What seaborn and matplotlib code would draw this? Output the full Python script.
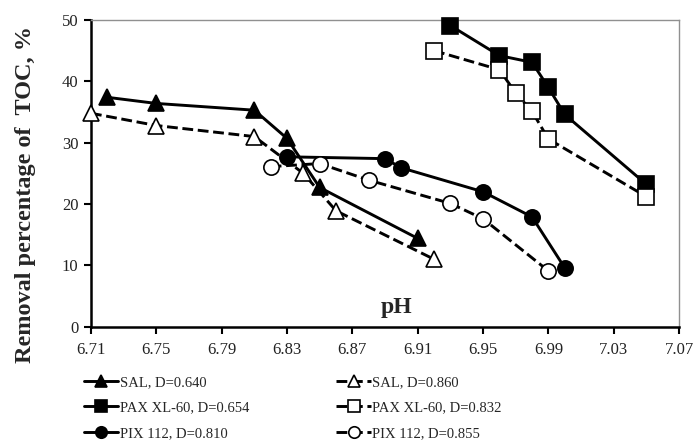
import matplotlib
matplotlib.use("Agg")
import matplotlib.pyplot as plt
import seaborn as sns
import pandas as pd

sns.set_theme(style="white")
plt.rcParams['font.family'] = ['Liberation Serif', 'DejaVu Serif']

# Data
sal1_x = [6.72, 6.75, 6.81, 6.83, 6.85, 6.91]
sal1_y = [37.4, 36.4, 35.3, 30.7, 22.7, 14.4]
sal2_x = [6.71, 6.75, 6.81, 6.84, 6.86, 6.92]
sal2_y = [34.8, 32.8, 31.0, 25.0, 18.9, 11.0]
pax1_x = [6.93, 6.96, 6.98, 6.99, 7.00, 7.05]
pax1_y = [49.1, 44.2, 43.1, 39.0, 34.6, 23.2]
pax2_x = [6.92, 6.96, 6.97, 6.98, 6.99, 7.05]
pax2_y = [45.0, 41.9, 38.1, 35.1, 30.6, 21.2]
pix1_x = [6.83, 6.89, 6.90, 6.95, 6.98, 7.00]
pix1_y = [27.7, 27.4, 25.9, 22.0, 17.9, 9.6]
pix2_x = [6.82, 6.85, 6.88, 6.93, 6.95, 6.99]
pix2_y = [26.1, 26.6, 23.9, 20.1, 17.6, 9.1]

labels = ["SAL, D=0.640", "PAX XL-60, D=0.654", "PIX 112, D=0.810",
          "SAL, D=0.860", "PAX XL-60, D=0.832", "PIX 112, D=0.855"]
x_ticks = [6.71, 6.75, 6.79, 6.83, 6.87, 6.91, 6.95, 6.99, 7.03, 7.07]
y_ticks = [0, 10, 20, 30, 40, 50]

fig = plt.figure(figsize=(6.96, 4.45), dpi=100)
ax = fig.add_axes([0.1307, 0.2658, 0.845, 0.6892])

series = [
    (sal1_x, sal1_y, '^', 'black', '-', labels[0], 11),
    (pax1_x, pax1_y, 's', 'black', '-', labels[1], 11),
    (pix1_x, pix1_y, 'o', 'black', '-', labels[2], 11),
    (sal2_x, sal2_y, '^', 'white', '--', labels[3], 11),
    (pax2_x, pax2_y, 's', 'white', '--', labels[4], 11),
    (pix2_x, pix2_y, 'o', 'white', '--', labels[5], 11),
]
for xs, ys, m, fc, ls, lab, ms in series:
    df = pd.DataFrame({'pH': xs, 'val': ys})
    kw = {}
    if ls == '--':
        kw['dashes'] = (3, 1.6)
    sns.lineplot(data=df, x='pH', y='val', ax=ax, color='black', lw=2.1,
                 linestyle=ls, marker=m, markersize=ms, markerfacecolor=fc,
                 markeredgecolor='black', markeredgewidth=1.2, label=lab,
                 sort=False, clip_on=False, zorder=3, **kw)

ax.set_xlim(6.71, 7.07)
ax.set_ylim(0, 50)
ax.set_xticks(x_ticks)
ax.set_xticklabels([f"{v:.2f}" for v in x_ticks])
ax.set_yticks(y_ticks)
ax.tick_params(axis='both', labelsize=12, direction='out', length=5, width=1.5,
               colors='black', left=True, bottom=True)
ax.tick_params(axis='x', pad=6)
ax.tick_params(axis='y', pad=4)
for t in ax.get_xticklabels() + ax.get_yticklabels():
    t.set_color('#222222')
ax.set_xlabel('')
ax.set_ylabel('Removal percentage of  TOC, %', fontsize=17.5, fontweight='bold')
ax.yaxis.set_label_coords(-0.094, 0.43)
ax.text(0.52, 0.064, 'pH', transform=ax.transAxes, fontsize=17,
        fontweight='bold', ha='center', va='center')

for s in ['left', 'bottom']:
    ax.spines[s].set_color('black')
    ax.spines[s].set_linewidth(1.8)
for s in ['top', 'right']:
    ax.spines[s].set_color('#909090')
    ax.spines[s].set_linewidth(1.0)
ax.grid(False)

handles, labs = ax.get_legend_handles_labels()
if ax.legend_:
    ax.legend_.remove()
fig.legend(handles, labs, ncol=2, loc='upper left', bbox_to_anchor=(0.112, 0.169),
           frameon=False, fontsize=10.5, handlelength=2.35, handletextpad=0.1,
           columnspacing=6.0, labelspacing=0.85, borderaxespad=0, numpoints=1,
           markerscale=0.75)

fig.savefig('out.png', dpi=100)
